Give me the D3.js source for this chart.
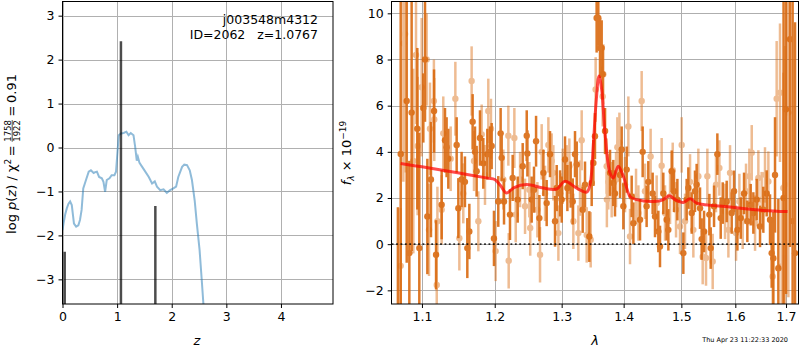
<!DOCTYPE html>
<html>
<head>
<meta charset="utf-8">
<script src="https://cdn.jsdelivr.net/npm/d3@7/dist/d3.min.js"></script>
<style>
  body { margin: 0; background: #fff; }
  text { font-family: 'DejaVu Sans', sans-serif; }
</style>
</head>
<body>
<svg id="chart" width="800" height="350"></svg>
<script>
// ---- left panel: log p(z) ----
var pzZ = [0, 0.02, 0.05, 0.08, 0.11, 0.14, 0.17, 0.21, 0.25, 0.29, 0.32, 0.35, 0.38, 0.43, 0.48, 0.52,
  0.57, 0.60, 0.63, 0.67, 0.72, 0.75, 0.78, 0.81, 0.86, 0.90, 0.95, 0.98, 1.00, 1.03, 1.07, 1.12,
  1.17, 1.21, 1.25, 1.30, 1.33, 1.36, 1.38, 1.41, 1.48, 1.58, 1.64, 1.69, 1.73, 1.79, 1.85, 1.91,
  1.97, 2.03, 2.08, 2.12, 2.19, 2.23, 2.28, 2.33, 2.37, 2.42, 2.46, 2.51, 2.55, 2.58, 2.62]
var pzLog = [-1.88, -1.72, -1.52, -1.38, -1.28, -1.23, -1.31, -1.73, -1.80, -1.77, -1.65, -1.42, -0.93, -0.74, -0.55, -0.52,
  -0.58, -0.56, -0.55, -0.67, -0.70, -0.78, -1.01, -0.74, -0.70, -0.63, -0.63, -0.55, -0.21, 0.28, 0.32, 0.33,
  0.36, 0.28, 0.33, 0.28, 0.02, -0.30, -0.21, -0.35, -0.48, -0.67, -0.82, -0.77, -0.89, -0.97, -0.95, -1.03,
  -0.97, -0.93, -0.89, -0.67, -0.44, -0.39, -0.40, -0.52, -0.74, -1.20, -1.73, -2.33, -3.02, -3.56, -4.10]
var peakZ = [0.04, 1.07, 1.70]
var peakLog = [-2.37, 2.42, -1.33]
var zTicks = [0, 1, 2, 3, 4]
var logTicks = [-3, -2, -1, 0, 1, 2, 3]

// ---- right panel: spectrum [lambda, flux, err] ----
var modelLam = [1.0723, 1.10, 1.15, 1.19, 1.20, 1.208, 1.217, 1.228, 1.2467, 1.2718, 1.292, 1.305, 1.3236, 1.3395,
  1.345, 1.350, 1.3545, 1.3593, 1.3637, 1.369, 1.3773, 1.3828, 1.391, 1.3995, 1.4107, 1.422, 1.4565, 1.468,
  1.4786, 1.4887, 1.5035, 1.5157, 1.528, 1.5898, 1.6545, 1.703]
var modelFlux = [3.49, 3.35, 3.08, 2.86, 2.80, 2.55, 2.22, 2.45, 2.58, 2.43, 2.39, 2.72, 2.43, 2.25,
  2.6, 4.25, 6.1, 7.29, 6.7, 4.83, 3.09, 2.87, 3.38, 2.94, 2.07, 1.93, 1.86, 1.93,
  2.10, 1.93, 1.81, 1.97, 1.78, 1.61, 1.46, 1.41]

var darkSpec = [
  [1.0688, -2.9, 4.5], [1.0724, 3.91, 6.6], [1.0801, 6.2, 7], [1.0835, -0.39, 4], [1.0865, 5.7, 6],
  [1.0939, 5.0, 3.5], [1.0965, -0.17, 5], [1.1018, 5.9, 1.5], [1.1040, 8.0, 2.7], [1.1071, 1.2, 2.5],
  [1.1119, 2.8, 2.5], [1.1160, 5.77, 1.8], [1.1187, -0.46, 1.5], [1.1262, 1.71, 1.5], [1.1307, 4.5, 1.4],
  [1.1329, 4.2, 1.3], [1.1352, 3.7, 1.3], [1.1466, 4.3, 1.2], [1.1489, 1.56, 1.3], [1.1534, 2.8, 1.2],
  [1.1580, 2.7, 1.1], [1.1613, -0.17, 1.3], [1.1641, 0.55, 1.2], [1.1687, 5.3, 1.2], [1.1720, 4.0, 1.1],
  [1.1743, 3.16, 1.1], [1.1790, 4.6, 1.2], [1.1837, 3.5, 1.1], [1.1894, 3.9, 1.1], [1.1932, 4.0, 1.1],
  [1.1956, 4.25, 1.0], [1.1989, 0.25, 1.2], [1.2051, 1.85, 1.1], [1.2085, 4.8, 1.1], [1.2100, 3.74, 1.0],
  [1.2134, 1.85, 1.0], [1.2221, 1.28, 1.1], [1.2260, 2.87, 1.0], [1.2334, 1.93, 1.0], [1.2408, 3.38, 1.0],
  [1.2468, 4.7, 1.1], [1.2478, 3.93, 1.0], [1.2542, 1.93, 1.0], [1.2577, 2.36, 1.0], [1.2608, 4.46, 1.1],
  [1.2658, 1.13, 1.0], [1.2719, 3.09, 1.0], [1.2769, 1.78, 1.0], [1.2820, 3.9, 1.0], [1.2897, 0.99, 1.1],
  [1.2923, 2.43, 1.0], [1.2975, 2.2, 1.0], [1.3000, 1.93, 1.0], [1.3052, 3.67, 1.0], [1.3089, 2.43, 1.0],
  [1.3141, 2.58, 1.0], [1.3173, 1.85, 1.0], [1.3209, 3.9, 1.0], [1.3236, 3.45, 1.0], [1.3331, 1.49, 1.0],
  [1.3368, 2.58, 1.0], [1.3437, 0.33, 1.1], [1.3475, 2.65, 1.0], [1.3502, 3.52, 1.0], [1.3528, 4.68, 1.0],
  [1.3555, 9.8, 1.5], [1.3582, 9.8, 1.2], [1.3610, 8.5, 1.3], [1.3637, 8.5, 1.2], [1.3653, 7.36, 1.1],
  [1.3692, 4.9, 1.0], [1.3774, 3.09, 1.0], [1.3828, 2.65, 1.0], [1.3856, 2.2, 1.0], [1.3940, 3.0, 1.0],
  [1.3967, 4.1, 1.0], [1.3995, 1.64, 1.0], [1.4051, 3.23, 1.0], [1.4135, 2.07, 0.9], [1.4164, 0.91, 0.9],
  [1.4277, 1.06, 0.9], [1.4322, 4.0, 1.1], [1.4390, 1.64, 0.9], [1.4419, 2.7, 0.9], [1.4494, 2.2, 0.9],
  [1.4535, 1.2, 0.9], [1.4593, 0.55, 0.9], [1.4622, -0.1, 0.9], [1.4680, 2.2, 0.9], [1.4739, 1.06, 0.9],
  [1.4769, 0.62, 0.9], [1.4828, 3.16, 0.9], [1.4869, 2.29, 0.9], [1.4929, 1.93, 0.9], [1.5036, -0.39, 0.9],
  [1.5096, 1.93, 0.9], [1.5126, 2.43, 0.9], [1.5187, 1.35, 0.9], [1.5247, 2.29, 0.9], [1.5277, 2.58, 0.9],
  [1.5339, 1.56, 0.9], [1.5369, 0.22, 0.9], [1.5413, 0.55, 0.9], [1.5511, 1.28, 0.9], [1.5536, -0.17, 0.9],
  [1.5598, 1.64, 0.9], [1.5660, 3.9, 0.9], [1.5723, 1.13, 0.9], [1.5761, 1.78, 0.9], [1.5836, 1.85, 0.9],
  [1.5931, 1.35, 0.9], [1.5976, 2.29, 0.9], [1.6040, 0.62, 0.9], [1.6104, 1.13, 0.9], [1.6168, 2.2, 0.9],
  [1.6232, 0.99, 0.9], [1.6297, 1.71, 0.9], [1.6349, 1.35, 0.9], [1.6414, 1.93, 0.9], [1.6480, 0.77, 0.9],
  [1.6545, 1.49, 1.0], [1.6612, 2.2, 1.0], [1.6678, 1.06, 1.1], [1.6711, -0.39, 1.5], [1.6745, -0.61, 2.0],
  [1.6778, 3.0, 2.5], [1.6845, -1.04, 3.0], [1.6950, 2.0, 12], [1.7000, 5.84, 8], [1.7082, 8.88, 9],
  [1.7135, 1.0, 12], [1.7184, -0.39, 10]
]

var lightSpec = [
  [1.0724, -0.94, 2.5], [1.0758, 8.7, 6], [1.0780, 9.1, 6], [1.0887, 3.6, 4], [1.0922, 8.2, 3],
  [1.0943, 4.25, 3], [1.0996, 6.8, 3], [1.1062, 8.0, 2], [1.1093, 0.62, 2], [1.1106, 5.0, 2],
  [1.1158, 6.2, 1.8], [1.1163, 5.4, 1.8], [1.1196, -1.77, 1.6], [1.1205, 0.99, 1.5], [1.1262, 1.49, 1.5],
  [1.1284, 4.8, 1.6], [1.1384, 3.7, 1.4], [1.1448, 6.3, 1.6], [1.1503, 0.26, 1.4], [1.1557, 2.2, 1.3],
  [1.1673, 7.07, 1.5], [1.1706, 3.6, 1.3], [1.1767, 0.99, 1.3], [1.1814, 4.75, 1.3], [1.1861, 3.0, 1.3],
  [1.1908, 5.77, 1.4], [1.1946, 5.0, 1.3], [1.2013, -0.3, 1.3], [1.2124, 2.8, 1.3], [1.2197, 4.7, 1.3],
  [1.2202, -0.72, 1.2], [1.2285, 4.6, 1.3], [1.2305, 1.28, 1.2], [1.2369, 2.8, 1.2], [1.2443, 1.64, 1.2],
  [1.2507, 2.36, 1.2], [1.2520, 0.7, 1.2], [1.2628, 1.49, 1.2], [1.2668, -0.46, 1.2], [1.2693, 4.0, 1.2],
  [1.2744, 2.2, 1.2], [1.2795, 4.3, 1.2], [1.2846, 3.6, 1.2], [1.2871, 3.09, 1.2], [1.2949, 0.48, 1.2],
  [1.3016, 2.94, 1.2], [1.3078, 3.09, 1.2], [1.3120, 3.38, 1.2], [1.3183, 0.99, 1.2], [1.3262, 0.48, 1.2],
  [1.3288, 2.43, 1.2], [1.3315, 4.5, 1.3], [1.3395, 0.4, 1.2], [1.3459, 0.19, 1.2], [1.3539, 6.7, 1.4],
  [1.3653, 6.4, 1.3], [1.3664, 7.36, 1.3], [1.3719, 3.38, 1.2], [1.3722, 1.93, 1.2], [1.3746, 2.7, 1.2],
  [1.3801, 2.36, 1.2], [1.3873, 2.8, 1.2], [1.3895, 4.2, 1.3], [1.3929, 4.4, 1.3], [1.4023, 2.58, 1.2],
  [1.4079, 5.1, 1.3], [1.4107, 0.33, 1.2], [1.4209, 2.07, 1.2], [1.4249, 1.35, 1.2], [1.4305, 6.2, 1.3],
  [1.4362, 2.29, 1.2], [1.4459, 3.8, 1.2], [1.4564, 1.78, 1.2], [1.4651, 3.4, 1.2], [1.4710, 1.35, 1.2],
  [1.4799, 2.07, 1.2], [1.4846, 3.2, 1.2], [1.4905, 1.49, 1.2], [1.4976, 0.77, 1.2], [1.5006, 4.3, 1.2],
  [1.5066, 0.99, 1.2], [1.5157, 2.7, 1.2], [1.5217, 0.62, 1.2], [1.5308, 2.94, 1.2], [1.5388, -0.54, 1.2],
  [1.5449, -0.6, 1.2], [1.5474, 2.94, 1.2], [1.5573, -0.75, 1.2], [1.5635, 2.58, 1.2], [1.5698, 3.3, 1.2],
  [1.5805, 1.42, 1.2], [1.5868, 0.62, 1.2], [1.5899, 3.09, 1.2], [1.6014, 0.48, 1.2], [1.6078, 1.85, 1.2],
  [1.6142, 0.99, 1.2], [1.6206, 2.29, 1.2], [1.6271, 2.94, 1.2], [1.6317, 3.96, 1.2], [1.6382, 0.91, 1.2],
  [1.6447, 2.87, 1.2], [1.6512, 1.93, 1.2], [1.6578, 3.0, 1.2], [1.6645, 2.72, 1.3], [1.6731, -1.4, 1.5],
  [1.6811, 6.3, 2.5], [1.6878, 6.56, 3], [1.6912, -0.97, 3], [1.6946, 2.43, 5], [1.6980, 2.58, 6],
  [1.7048, 5.7, 8]
]
var lamTicks = [1.1, 1.2, 1.3, 1.4, 1.5, 1.6, 1.7]
var fluxTicks = [-2, 0, 2, 4, 6, 8, 10]

var svg = d3.select('#chart')
var gridColor = '#b0b0b0'
var orange = '#da6a10'

// scales
var zScale = d3.scaleLinear().domain([0, 4.953]).range([62.5, 333])
var pzScale = d3.scaleLinear().domain([-3.561, 3.334]).range([304, 1])
var lamScale = d3.scaleLog().domain([1.0609, 1.7266]).range([391.7, 799])
var fluxScale = d3.scaleLinear().domain([-2.592, 10.534]).range([304, 1])

function clip(id, x0, x1) {
  svg.append('clipPath').attr('id', id)
    .append('rect').attr('x', x0).attr('y', 1).attr('width', x1 - x0).attr('height', 303)
}
clip('clipL', 62.5, 333)
clip('clipR', 391.7, 799)

function drawAxes(xs, ys, xTicks, yTicks, x0, x1, xFmt) {
  // grid
  svg.append('g').selectAll('line').data(xTicks).enter().append('line')
    .attr('x1', d => Math.round(xs(d)) + 0.5).attr('x2', d => Math.round(xs(d)) + 0.5)
    .attr('y1', 1).attr('y2', 304)
    .attr('stroke', gridColor).attr('stroke-width', 1)
  svg.append('g').selectAll('line').data(yTicks).enter().append('line')
    .attr('y1', d => Math.round(ys(d)) + 0.5).attr('y2', d => Math.round(ys(d)) + 0.5)
    .attr('x1', x0).attr('x2', x1)
    .attr('stroke', gridColor).attr('stroke-width', 1)

  var xAxis = d3.axisBottom(xs).tickValues(xTicks).tickSize(4).tickPadding(4).tickSizeOuter(0)
    .tickFormat(xFmt)
  var gx = svg.append('g').attr('transform', 'translate(0,304)').call(xAxis)
  var yAxis = d3.axisLeft(ys).tickValues(yTicks).tickSize(4).tickPadding(4).tickSizeOuter(0)
    .tickFormat(d => String(d).replace('-', '\u2212'))
  var gy = svg.append('g').attr('transform', 'translate(' + x0 + ',0)').call(yAxis)
  ;[gx, gy].forEach(function(g) {
    g.select('.domain').remove()
    g.selectAll('text').attr('font-size', 12.5).attr('font-family', 'DejaVu Sans').attr('fill', '#000')
    g.selectAll('line').attr('stroke', '#000')
  })
}

drawAxes(zScale, pzScale, zTicks, logTicks, 62.5, 333, d3.format('d'))
drawAxes(lamScale, fluxScale, lamTicks, fluxTicks, 391.7, 799, d3.format('.1f'))

// left panel marks
var left = svg.append('g').attr('clip-path', 'url(#clipL)')
left.append('path')
  .datum(pzZ.map((z, i) => [z, pzLog[i]]))
  .attr('d', d3.line().x(d => zScale(d[0])).y(d => pzScale(d[1])))
  .attr('fill', 'none').attr('stroke', '#1f77b4').attr('stroke-opacity', 0.5).attr('stroke-width', 2)
left.selectAll('.peak').data(peakZ).enter().append('line')
  .attr('class', 'peak')
  .attr('x1', d => zScale(d)).attr('x2', d => zScale(d))
  .attr('y1', pzScale(-3.561)).attr('y2', (d, i) => pzScale(peakLog[i]))
  .attr('stroke', '#000').attr('stroke-opacity', 0.7).attr('stroke-width', 2.5)

// right panel marks
var right = svg.append('g').attr('clip-path', 'url(#clipR)')

function drawSpec(data, opacity) {
  var g = right.append('g').attr('opacity', opacity)
  g.selectAll('line').data(data).enter().append('line')
    .attr('x1', d => lamScale(d[0])).attr('x2', d => lamScale(d[0]))
    .attr('y1', d => fluxScale(d[1] - d[2])).attr('y2', d => fluxScale(d[1] + d[2]))
    .attr('stroke', orange).attr('stroke-width', 2.5)
  g.selectAll('circle').data(data).enter().append('circle')
    .attr('cx', d => lamScale(d[0])).attr('cy', d => fluxScale(d[1]))
    .attr('r', 3.2).attr('fill', orange)
}
drawSpec(lightSpec, 0.45)
drawSpec(darkSpec, 0.9)

right.append('line')
  .attr('x1', 391.7).attr('x2', 799)
  .attr('y1', fluxScale(0)).attr('y2', fluxScale(0))
  .attr('stroke', '#000').attr('stroke-opacity', 0.8).attr('stroke-width', 1.8)
  .attr('stroke-dasharray', '1.8,2.6')

right.append('path')
  .datum(modelLam.map((l, i) => [l, modelFlux[i]]))
  .attr('d', d3.line().curve(d3.curveCatmullRom.alpha(0.5))
    .x(d => lamScale(d[0])).y(d => fluxScale(d[1])))
  .attr('fill', 'none').attr('stroke', '#ff0000').attr('stroke-opacity', 0.7).attr('stroke-width', 3)

// frames
svg.append('rect').attr('x', 62.5).attr('y', 1.5).attr('width', 270.5).attr('height', 302.5)
  .attr('fill', 'none').attr('stroke', '#000').attr('stroke-width', 1)
svg.append('rect').attr('x', 391.5).attr('y', 1.5).attr('width', 407).attr('height', 302.5)
  .attr('fill', 'none').attr('stroke', '#000').attr('stroke-width', 1)

// annotation
svg.append('text').attr('x', 318).attr('y', 24).attr('text-anchor', 'end').attr('font-size', 12.5)
  .text('j003548m4312')
svg.append('text').attr('x', 318).attr('y', 39).attr('text-anchor', 'end').attr('font-size', 12.5)
  .attr('xml:space', 'preserve').style('white-space', 'pre')
  .text('ID=2062   z=1.0767')

// x labels
svg.append('text').attr('x', 197).attr('y', 345).attr('text-anchor', 'middle')
  .attr('font-size', 13).attr('font-style', 'italic').text('z')
svg.append('text').attr('x', 595).attr('y', 345).attr('text-anchor', 'middle')
  .attr('font-size', 13).attr('font-style', 'italic').text('\u03bb')

// left y label with fraction
var ylab = svg.append('g')
var inner = ylab.append('g')
var t1 = inner.append('text').attr('font-size', 13)
t1.append('tspan').text('log ')
t1.append('tspan').attr('font-style', 'italic').text('p')
t1.append('tspan').text('(')
t1.append('tspan').attr('font-style', 'italic').text('z')
t1.append('tspan').text(') / \u03c7')
t1.append('tspan').attr('font-size', 9).attr('dy', -5).text('2')
t1.append('tspan').attr('dy', 5).text('\u2009=\u2009')
var w1 = t1.node().getComputedTextLength()
var num = inner.append('text').attr('font-size', 8.5).attr('y', -5.5).text('1758')
var fw = num.node().getComputedTextLength()
num.attr('x', w1 + 1)
inner.append('text').attr('font-size', 8.5).attr('x', w1 + 1).attr('y', 4).text('1922')
inner.append('line').attr('x1', w1 + 1).attr('x2', w1 + 1 + fw).attr('y1', -3.8).attr('y2', -3.8)
  .attr('stroke', '#000').attr('stroke-width', 0.7)
var t2 = inner.append('text').attr('font-size', 13).attr('x', w1 + fw + 2).text('\u2009=\u20090.91')
var total = w1 + fw + 2 + t2.node().getComputedTextLength()
ylab.attr('transform', 'translate(16,154) rotate(-90)')
inner.attr('transform', 'translate(' + (-total / 2) + ',0)')

// right y label
var ylab2 = svg.append('text').attr('transform', 'translate(351,153) rotate(-90)')
  .attr('text-anchor', 'middle').attr('font-size', 13)
ylab2.append('tspan').attr('font-style', 'italic').text('f')
ylab2.append('tspan').attr('font-style', 'italic').attr('font-size', 9).attr('dy', 3).text('\u03bb')
ylab2.append('tspan').attr('dy', -3).text(' \u00d7 10')
ylab2.append('tspan').attr('font-size', 9).attr('dy', -5).text('\u221219')

// timestamp
svg.append('text').attr('x', 788).attr('y', 342).attr('text-anchor', 'end')
  .attr('font-size', 6.5).text('Thu Apr 23 11:22:33 2020')
</script>
</body>
</html>
